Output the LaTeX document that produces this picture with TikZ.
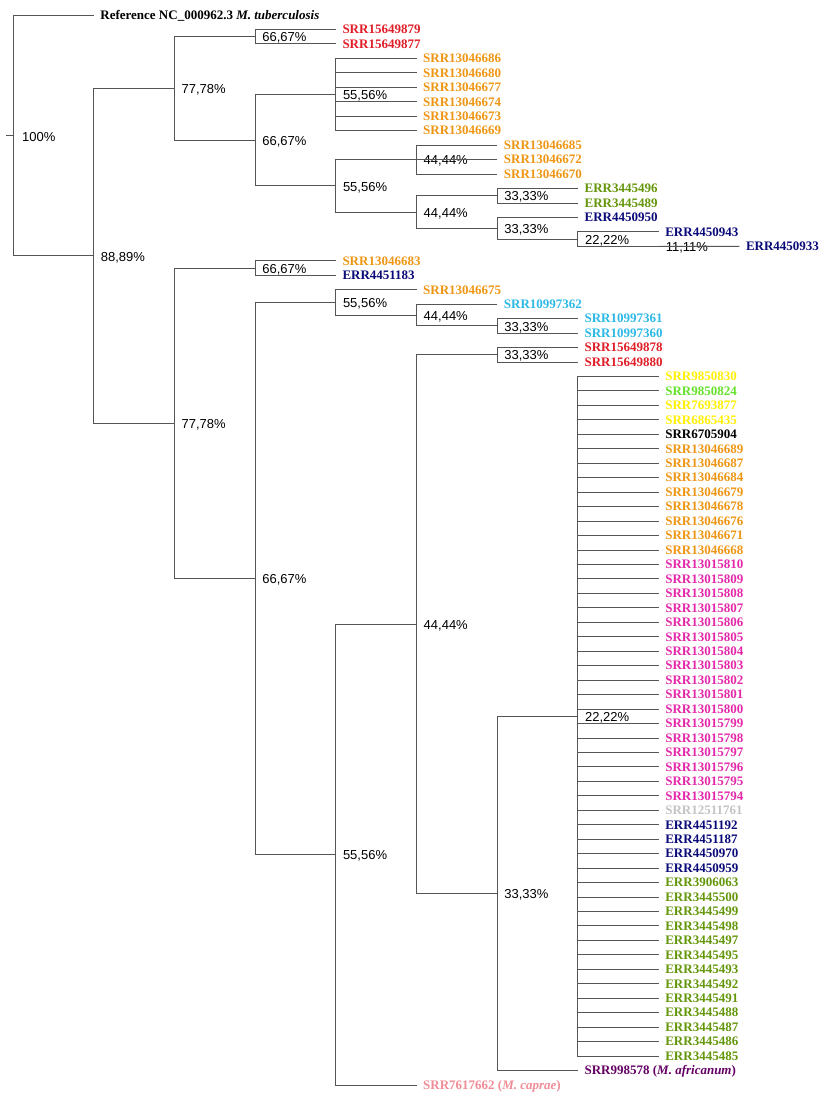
\documentclass[tikz,border=0pt]{standalone}
\usepackage{fontspec}
\setmainfont{Liberation Serif}
\newfontfamily\pctfont{Liberation Sans}
\definecolor{lc}{RGB}{85,85,85}
\definecolor{cred}{RGB}{225,30,40}
\definecolor{cora}{RGB}{238,150,20}
\definecolor{colv}{RGB}{100,150,10}
\definecolor{cnav}{RGB}{10,10,120}
\definecolor{cblu}{RGB}{45,185,230}
\definecolor{cyel}{RGB}{255,240,0}
\definecolor{cgrn}{RGB}{100,225,40}
\definecolor{cmag}{RGB}{228,40,170}
\definecolor{cgry}{RGB}{195,195,195}
\definecolor{cpur}{RGB}{100,0,100}
\definecolor{cpnk}{RGB}{240,140,150}
\newcommand{\Y}[1]{(15+(#1-1)*14.459)}
\begin{document}
\begin{tikzpicture}[x=1pt,y=-1pt,
  br/.style={draw=lc, line width=0.9pt},
  leaf/.style={anchor=west, inner xsep=6.5pt, inner ysep=0pt, font=\fontsize{13}{13}\selectfont\bfseries, text height=8.6pt, text depth=0pt},
  pct/.style={anchor=west, inner sep=0pt, xshift=7pt, yshift=-1.5pt, font=\pctfont\fontsize{13}{13}\selectfont}]
\useasboundingbox (0,0) rectangle (829,1099);
% internal nodes
\coordinate (root) at (13,135.42);
\coordinate (rt) at (6,135.42);
\coordinate (A) at (93.7,255.84);
\coordinate (B) at (174.4,88.43);
\coordinate (C) at (174.4,423.24);
\coordinate (D) at (255.1,36.69);
\coordinate (E) at (255.1,140.16);
\coordinate (F) at (335.8,94.53);
\coordinate (G) at (335.8,185.80);
\coordinate (H) at (416.5,159.59);
\coordinate (I) at (416.5,212.01);
\coordinate (J) at (497.2,195.74);
\coordinate (K) at (497.2,228.27);
\coordinate (L) at (577.9,239.12);
\coordinate (N) at (658.6,246.34);
\coordinate (P) at (255.1,268.03);
\coordinate (Q) at (255.1,578.45);
\coordinate (R) at (335.8,302.37);
\coordinate (S) at (335.8,854.53);
\coordinate (T) at (416.5,315.02);
\coordinate (U) at (497.2,325.87);
\coordinate (V) at (416.5,624.09);
\coordinate (W) at (497.2,354.79);
\coordinate (X) at (497.2,893.39);
\coordinate (Yn) at (577.9,716.26);
% percent labels
\node[pct,xshift=2pt] (root-l) at (root) {100\%};
\node[pct] (A-l) at (A) {88,89\%};
\node[pct] (B-l) at (B) {77,78\%};
\node[pct] (C-l) at (C) {77,78\%};
\node[pct] (D-l) at (D) {66,67\%};
\node[pct] (E-l) at (E) {66,67\%};
\node[pct] (P-l) at (P) {66,67\%};
\node[pct] (Q-l) at (Q) {66,67\%};
\node[pct] (F-l) at (F) {55,56\%};
\node[pct] (G-l) at (G) {55,56\%};
\node[pct] (R-l) at (R) {55,56\%};
\node[pct] (S-l) at (S) {55,56\%};
\node[pct] (H-l) at (H) {44,44\%};
\node[pct] (I-l) at (I) {44,44\%};
\node[pct] (T-l) at (T) {44,44\%};
\node[pct] (V-l) at (V) {44,44\%};
\node[pct] (J-l) at (J) {33,33\%};
\node[pct] (K-l) at (K) {33,33\%};
\node[pct] (U-l) at (U) {33,33\%};
\node[pct] (W-l) at (W) {33,33\%};
\node[pct] (X-l) at (X) {33,33\%};
\node[pct] (L-l) at (L) {22,22\%};
\node[pct] (Yn-l) at (Yn) {22,22\%};
\node[pct] (N-l) at (N) {11,11\%};
% leaves
\node[leaf] (l1) at (93.7,{\Y{1}}) {Reference NC\_000962.3 \textit{M. tuberculosis}};
\node[leaf,text=cred] (l2) at (335.8,{\Y{2}}) {SRR15649879};
\node[leaf,text=cred] (l3) at (335.8,{\Y{3}}) {SRR15649877};
\foreach \i/\nm in {4/SRR13046686,5/SRR13046680,6/SRR13046677,7/SRR13046674,8/SRR13046673,9/SRR13046669}{
  \node[leaf,text=cora] (l\i) at (416.5,{\Y{\i}}) {\nm};
  \draw[br] (F) |- (l\i.west);
}
\foreach \i/\nm in {10/SRR13046685,11/SRR13046672,12/SRR13046670}{
  \node[leaf,text=cora] (l\i) at (497.2,{\Y{\i}}) {\nm};
  \draw[br] (H) |- (l\i.west);
}
\node[leaf,text=colv] (l13) at (577.9,{\Y{13}}) {ERR3445496};
\node[leaf,text=colv] (l14) at (577.9,{\Y{14}}) {ERR3445489};
\node[leaf,text=cnav] (l15) at (577.9,{\Y{15}}) {ERR4450950};
\node[leaf,text=cnav] (l16) at (658.6,{\Y{16}}) {ERR4450943};
\node[leaf,text=cnav] (l17) at (739.3,{\Y{17}}) {ERR4450933};
\node[leaf,text=cora] (l18) at (335.8,{\Y{18}}) {SRR13046683};
\node[leaf,text=cnav] (l19) at (335.8,{\Y{19}}) {ERR4451183};
\node[leaf,text=cora] (l20) at (416.5,{\Y{20}}) {SRR13046675};
\node[leaf,text=cblu] (l21) at (497.2,{\Y{21}}) {SRR10997362};
\node[leaf,text=cblu] (l22) at (577.9,{\Y{22}}) {SRR10997361};
\node[leaf,text=cblu] (l23) at (577.9,{\Y{23}}) {SRR10997360};
\node[leaf,text=cred] (l24) at (577.9,{\Y{24}}) {SRR15649878};
\node[leaf,text=cred] (l25) at (577.9,{\Y{25}}) {SRR15649880};
\foreach \i/\nm/\cl in {26/SRR9850830/cyel,27/SRR9850824/cgrn,28/SRR7693877/cyel,29/SRR6865435/cyel,30/SRR6705904/black,
  31/SRR13046689/cora,32/SRR13046687/cora,33/SRR13046684/cora,34/SRR13046679/cora,35/SRR13046678/cora,36/SRR13046676/cora,37/SRR13046671/cora,38/SRR13046668/cora,
  39/SRR13015810/cmag,40/SRR13015809/cmag,41/SRR13015808/cmag,42/SRR13015807/cmag,43/SRR13015806/cmag,44/SRR13015805/cmag,45/SRR13015804/cmag,46/SRR13015803/cmag,47/SRR13015802/cmag,48/SRR13015801/cmag,49/SRR13015800/cmag,50/SRR13015799/cmag,51/SRR13015798/cmag,52/SRR13015797/cmag,53/SRR13015796/cmag,54/SRR13015795/cmag,55/SRR13015794/cmag,
  56/SRR12511761/cgry,57/ERR4451192/cnav,58/ERR4451187/cnav,59/ERR4450970/cnav,60/ERR4450959/cnav,
  61/ERR3906063/colv,62/ERR3445500/colv,63/ERR3445499/colv,64/ERR3445498/colv,65/ERR3445497/colv,66/ERR3445495/colv,67/ERR3445493/colv,68/ERR3445492/colv,69/ERR3445491/colv,70/ERR3445488/colv,71/ERR3445487/colv,72/ERR3445486/colv,73/ERR3445485/colv}{
  \node[leaf,text=\cl] (l\i) at (658.6,{\Y{\i}}) {\nm};
  \draw[br] (Yn) |- (l\i.west);
}
\node[leaf,text=cpur] (l74) at (577.9,{\Y{74}}) {SRR998578 (\textit{M. africanum})};
\node[leaf,text=cpnk] (l75) at (416.5,{\Y{75}}) {SRR7617662 (\textit{M. caprae})};
% branches
\draw[br] (rt) -- (root);
\draw[br] (root) |- (l1.west);
\draw[br] (root) |- (A);
\draw[br] (A) |- (B);
\draw[br] (A) |- (C);
\draw[br] (B) |- (D);
\draw[br] (B) |- (E);
\draw[br] (D) |- (l2.west);
\draw[br] (D) |- (l3.west);
\draw[br] (E) |- (F);
\draw[br] (E) |- (G);
\draw[br] (G) |- (H);
\draw[br] (G) |- (I);
\draw[br] (I) |- (J);
\draw[br] (I) |- (K);
\draw[br] (J) |- (l13.west);
\draw[br] (J) |- (l14.west);
\draw[br] (K) |- (l15.west);
\draw[br] (K) |- (L);
\draw[br] (L) |- (l16.west);
\draw[br] (L) |- (N);
\draw[br] (N) -- (l17.west);
\draw[br] (C) |- (P);
\draw[br] (C) |- (Q);
\draw[br] (P) |- (l18.west);
\draw[br] (P) |- (l19.west);
\draw[br] (Q) |- (R);
\draw[br] (Q) |- (S);
\draw[br] (R) |- (l20.west);
\draw[br] (R) |- (T);
\draw[br] (T) |- (l21.west);
\draw[br] (T) |- (U);
\draw[br] (U) |- (l22.west);
\draw[br] (U) |- (l23.west);
\draw[br] (S) |- (V);
\draw[br] (S) |- (l75.west);
\draw[br] (V) |- (W);
\draw[br] (V) |- (X);
\draw[br] (W) |- (l24.west);
\draw[br] (W) |- (l25.west);
\draw[br] (X) |- (Yn);
\draw[br] (X) |- (l74.west);
\end{tikzpicture}
\end{document}
